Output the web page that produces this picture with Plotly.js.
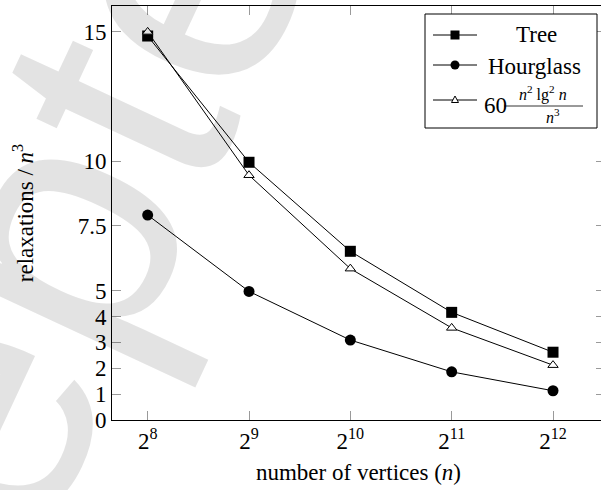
<!DOCTYPE html>
<html>
<head>
<meta charset="utf-8">
<script src="https://cdn.plot.ly/plotly-3.0.1.min.js"></script>
<style>
html, body { margin: 0; padding: 0; overflow: hidden; background: #fff; }
#chart { width: 606px; height: 490px; }
</style>
</head>
<body>
<div id="chart"></div>
<script>
// ---- data ----
const vertices = [256, 512, 1024, 2048, 4096];
const xTickLabels = ['2<sup>8</sup>', '2<sup>9</sup>', '2<sup>10</sup>', '2<sup>11</sup>', '2<sup>12</sup>'];
const treeValues = [14.84, 9.96, 6.52, 4.16, 2.62];
const hourglassValues = [7.92, 4.97, 3.09, 1.86, 1.13];
const formulaValues = [15.0, 9.46, 5.85, 3.56, 2.12];
const yTickValues = [0, 1, 2, 3, 4, 5, 7.5, 10, 15];
const yTickLabels = ['0', '1', '2', '3', '4', '5', '7.5', '10', '15'];
const seriesNames = ['Tree', 'Hourglass'];

// ---- layout geometry (pixels) ----
const L = 112, R = 605, T = 6, B = 420;
const px = p => (p - L) / (R - L);
const py = p => (B - p) / (B - T);
const FONT = 'Liberation Serif';
const FS = 23;

const traces = [
  {
    x: vertices, y: treeValues, name: seriesNames[0], type: 'scatter', mode: 'lines+markers',
    line: {color: '#000', width: 1},
    marker: {symbol: 'square', size: 11, color: '#000'}
  },
  {
    x: vertices, y: hourglassValues, name: seriesNames[1], type: 'scatter', mode: 'lines+markers',
    line: {color: '#000', width: 1},
    marker: {symbol: 'circle', size: 11, color: '#000'}
  },
  {
    x: vertices, y: formulaValues, name: '60 n² lg² n / n³', type: 'scatter', mode: 'lines+markers',
    line: {color: '#000', width: 1},
    marker: {symbol: 'triangle-up', size: 9, color: '#fff', line: {color: '#000', width: 1}}
  }
];

const log2r = v => v * Math.log10(2);

// custom legend decorations
const shapes = [
  {type: 'rect', xref: 'paper', yref: 'paper', x0: px(425), x1: px(597), y0: py(14), y1: py(128),
   fillcolor: '#fff', line: {color: '#000', width: 1}, layer: 'above'},
  {type: 'line', xref: 'paper', yref: 'paper', x0: px(433), x1: px(477), y0: py(35), y1: py(35), line: {color: '#000', width: 1}},
  {type: 'line', xref: 'paper', yref: 'paper', x0: px(433), x1: px(477), y0: py(65), y1: py(65), line: {color: '#000', width: 1}},
  {type: 'line', xref: 'paper', yref: 'paper', x0: px(433), x1: px(477), y0: py(100), y1: py(100), line: {color: '#000', width: 1}},
  {type: 'rect', xref: 'paper', yref: 'paper', x0: px(450.5), x1: px(459.5), y0: py(30.5), y1: py(39.5), fillcolor: '#000', line: {width: 0}},
  {type: 'circle', xref: 'paper', yref: 'paper', x0: px(450.5), x1: px(459.5), y0: py(60.5), y1: py(69.5), fillcolor: '#000', line: {width: 0}},
  {type: 'path', xref: 'paper', yref: 'paper',
   path: 'M' + px(451.5) + ',' + py(102.5) + ' L' + px(458.5) + ',' + py(102.5) + ' L' + px(455) + ',' + py(96) + ' Z',
   fillcolor: '#fff', line: {color: '#000', width: 1}},
  {type: 'line', xref: 'paper', yref: 'paper', x0: px(504), x1: px(583), y0: py(106), y1: py(106), line: {color: '#000', width: 0.8}}
];

const annotations = [
  {text: 'Accepted', xref: 'paper', yref: 'paper', x: px(-10), y: py(372), showarrow: false,
   textangle: -65, font: {family: 'Liberation Sans', size: 350, color: 'rgba(0,0,0,0.11)'},
   xanchor: 'center', yanchor: 'middle'},
  {text: 'Tree', xref: 'paper', yref: 'paper', x: px(536), y: py(35), showarrow: false,
   font: {family: FONT, size: FS, color: '#000'}, xanchor: 'center', yanchor: 'middle'},
  {text: 'Hourglass', xref: 'paper', yref: 'paper', x: px(534), y: py(66), showarrow: false,
   font: {family: FONT, size: FS, color: '#000'}, xanchor: 'center', yanchor: 'middle'},
  {text: '60', xref: 'paper', yref: 'paper', x: px(495), y: py(106), showarrow: false,
   font: {family: FONT, size: FS, color: '#000'}, xanchor: 'center', yanchor: 'middle'},
  {text: '<i>n</i><sup>2</sup> lg<sup>2</sup> <i>n</i>', xref: 'paper', yref: 'paper', x: px(543), y: py(94), showarrow: false,
   font: {family: FONT, size: 16, color: '#000'}, xanchor: 'center', yanchor: 'middle'},
  {text: '<i>n</i><sup>3</sup>', xref: 'paper', yref: 'paper', x: px(553), y: py(116), showarrow: false,
   font: {family: FONT, size: 16, color: '#000'}, xanchor: 'center', yanchor: 'middle'}
];

const layout = {
  width: 606, height: 490,
  margin: {l: L, r: 606 - R, t: T, b: 490 - B},
  paper_bgcolor: '#fff', plot_bgcolor: 'rgba(0,0,0,0)',
  showlegend: false,
  font: {family: FONT, size: FS, color: '#000'},
  xaxis: {
    type: 'log',
    range: [log2r(7.648), log2r(12.513)],
    tickvals: vertices, ticktext: xTickLabels,
    ticks: 'inside', ticklen: 9, tickwidth: 1, tickcolor: '#9a9a9a',
    showline: true, linecolor: '#000', linewidth: 1, mirror: 'allticks',
    showgrid: false, zeroline: false,
    tickfont: {family: FONT, size: FS, color: '#000'},
    title: {text: 'number of vertices (<i>n</i>)', font: {family: FONT, size: FS, color: '#000'}, standoff: 11}
  },
  yaxis: {
    range: [0, 16],
    tickvals: yTickValues, ticktext: yTickLabels,
    ticks: 'inside', ticklen: 9, tickwidth: 1, tickcolor: '#9a9a9a',
    showline: true, linecolor: '#000', linewidth: 1, mirror: 'allticks',
    showgrid: false, zeroline: false,
    tickfont: {family: FONT, size: FS, color: '#000'},
    title: {text: 'relaxations / <i>n</i><sup>3</sup>', font: {family: FONT, size: FS, color: '#000'}, standoff: 37}
  },
  shapes: shapes,
  annotations: annotations
};

Plotly.newPlot('chart', traces, layout, {staticPlot: true, displayModeBar: false});
</script>
</body>
</html>
